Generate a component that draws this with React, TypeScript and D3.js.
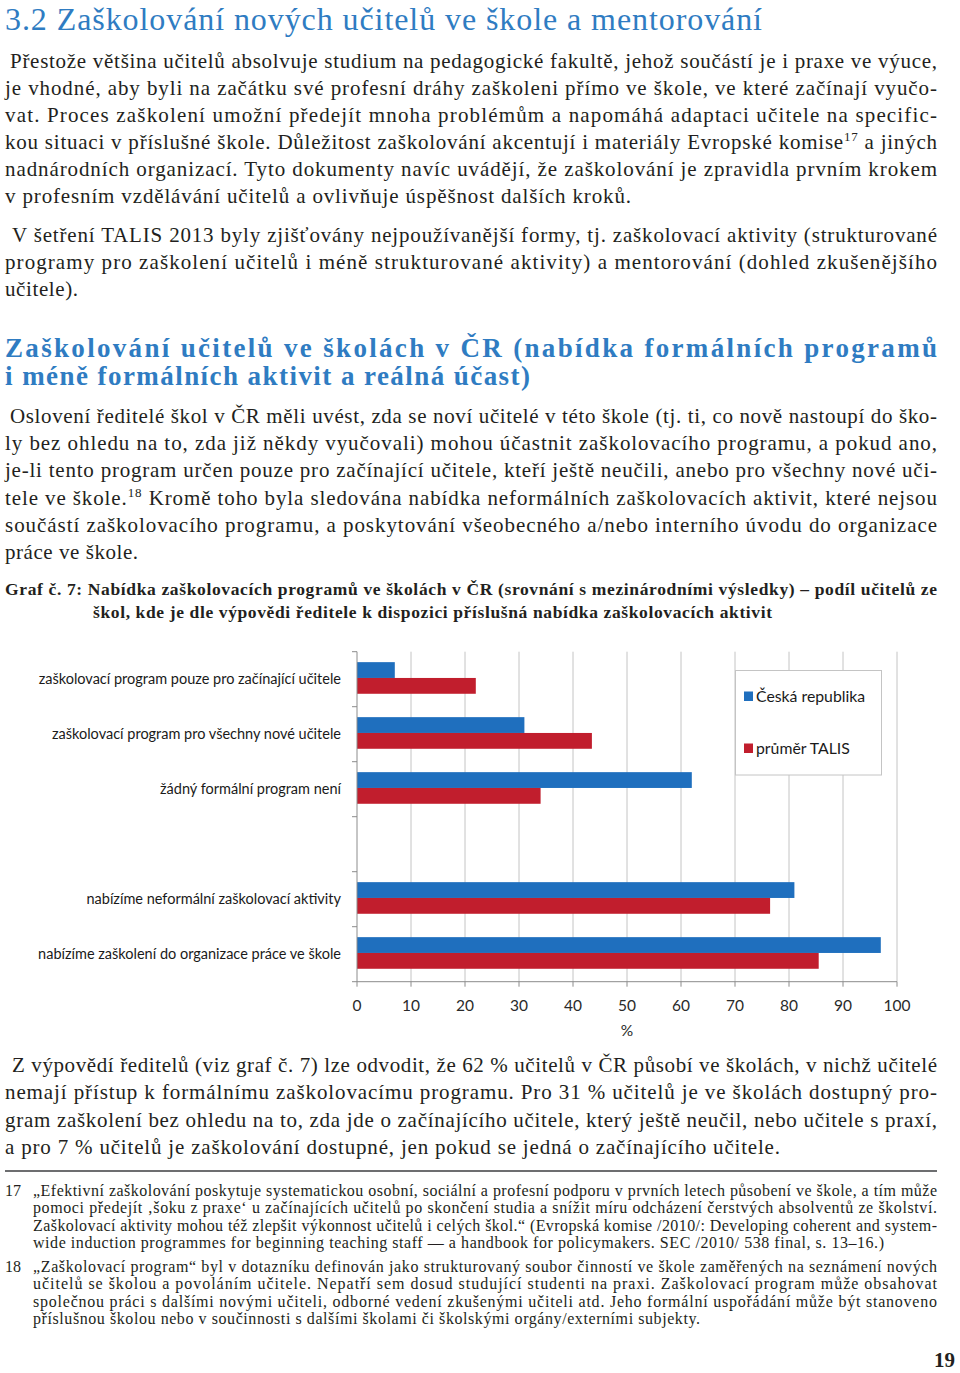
import React from "react";
import * as d3 from "d3";

// ---------- chart data ----------
const categories = [
  "zaškolovací program pouze pro začínající učitele",
  "zaškolovací program pro všechny nové učitele",
  "žádný formální program není",
  "nabízíme neformální zaškolovací aktivity",
  "nabízíme zaškolení do organizace práce ve škole",
];
// empty slot between the 3rd and 4th category in the original chart
const rowOrder = [categories[0], categories[1], categories[2], "", categories[3], categories[4]];
const czValues = [7, 31, 62, 81, 97];
const talisValues = [22, 43.5, 34, 76.5, 85.5];
const seriesNames = ["Česká republika", "průměr TALIS"];
const xTicks = [0, 10, 20, 30, 40, 50, 60, 70, 80, 90, 100];
const xAxisTitle = "%";

// ---------- page text ----------
const headingText = "3.2 Zaškolování nových učitelů ve škole a mentorování";
const para1 = [
  "Přestože většina učitelů absolvuje studium na pedagogické fakultě, jehož součástí je i praxe ve výuce,",
  "je vhodné, aby byli na začátku své profesní dráhy zaškoleni přímo ve škole, ve které začínají vyučo-",
  "vat. Proces zaškolení umožní předejít mnoha problémům a napomáhá adaptaci učitele na specific-",
  "kou situaci v příslušné škole. Důležitost zaškolování akcentují i materiály Evropské komise^17 a jiných",
  "nadnárodních organizací. Tyto dokumenty navíc uvádějí, že zaškolování je zpravidla prvním krokem",
  "v profesním vzdělávání učitelů a ovlivňuje úspěšnost dalších kroků.",
];
const para2 = [
  "V šetření TALIS 2013 byly zjišťovány nejpoužívanější formy, tj. zaškolovací aktivity (strukturované",
  "programy pro zaškolení učitelů i méně strukturované aktivity) a mentorování (dohled zkušenějšího",
  "učitele).",
];
const subheading = [
  "Zaškolování učitelů ve školách v ČR (nabídka formálních programů",
  "i méně formálních aktivit a reálná účast)",
];
const para3 = [
  "Oslovení ředitelé škol v ČR měli uvést, zda se noví učitelé v této škole (tj. ti, co nově nastoupí do ško-",
  "ly bez ohledu na to, zda již někdy vyučovali) mohou účastnit zaškolovacího programu, a pokud ano,",
  "je-li tento program určen pouze pro začínající učitele, kteří ještě neučili, anebo pro všechny nové uči-",
  "tele ve škole.^18 Kromě toho byla sledována nabídka neformálních zaškolovacích aktivit, které nejsou",
  "součástí zaškolovacího programu, a poskytování všeobecného a/nebo interního úvodu do organizace",
  "práce ve škole.",
];
const caption = [
  "Graf č. 7: Nabídka zaškolovacích programů ve školách v ČR (srovnání s mezinárodními výsledky) – podíl učitelů ze",
  "škol, kde je dle výpovědi ředitele k dispozici příslušná nabídka zaškolovacích aktivit",
];
const para4 = [
  "Z výpovědí ředitelů (viz graf č. 7) lze odvodit, že 62 % učitelů v ČR působí ve školách, v nichž učitelé",
  "nemají přístup k formálnímu zaškolovacímu programu. Pro 31 % učitelů je ve školách dostupný pro-",
  "gram zaškolení bez ohledu na to, zda jde o začínajícího učitele, který ještě neučil, nebo učitele s praxí,",
  "a pro 7 % učitelů je zaškolování dostupné, jen pokud se jedná o začínajícího učitele.",
];
const fn17 = [
  "„Efektivní zaškolování poskytuje systematickou osobní, sociální a profesní podporu v prvních letech působení ve škole, a tím může",
  "pomoci předejít ‚šoku z praxe‘ u začínajících učitelů po skončení studia a snížit míru odcházení čerstvých absolventů ze školství.",
  "Zaškolovací aktivity mohou též zlepšit výkonnost učitelů i celých škol.“ (Evropská komise /2010/: Developing coherent and system-",
  "wide induction programmes for beginning teaching staff — a handbook for policymakers. SEC /2010/ 538 final, s. 13–16.)",
];
const fn18 = [
  "„Zaškolovací program“ byl v dotazníku definován jako strukturovaný soubor činností ve škole zaměřených na seznámení nových",
  "učitelů se školou a povoláním učitele. Nepatří sem dosud studující studenti na praxi. Zaškolovací program může obsahovat",
  "společnou práci s dalšími novými učiteli, odborné vedení zkušenými učiteli atd. Jeho formální uspořádání může být stanoveno",
  "příslušnou školou nebo v součinnosti s dalšími školami či školskými orgány/externími subjekty.",
];
const pageNumber = "19";

const SERIF = "'Liberation Serif', 'DejaVu Serif', serif";
const SANS = "Lato, 'Open Sans', sans-serif";
const TEXT = "#231f20";
const BLUE_HEAD = "#2f7cc2";
const CZ = "#1f6fbe";
const TALIS = "#c11e2d";

function renderRich(s: string, size: number) {
  const parts = s.split(/\^(\d+)/);
  const out: any[] = [];
  parts.forEach((p, i) => {
    if (i % 2 === 1) {
      out.push(
        <tspan key={i} dy={-size * 0.38} fontSize={size * 0.62}>
          {p}
        </tspan>
      );
    } else if (p.length) {
      out.push(
        <tspan key={i} dy={i === 0 ? 0 : size * 0.38}>
          {p}
        </tspan>
      );
    }
  });
  return out;
}

type ParaProps = {
  lines: string[];
  x0: number;
  firstX?: number;
  y0: number;
  lh: number;
  size: number;
  right?: number;
  lastWidth?: number;
  weight?: string | number;
  fill?: string;
};

function Para({ lines, x0, firstX, y0, lh, size, right = 937, lastWidth, weight = "normal", fill = TEXT }: ParaProps) {
  return (
    <g fontFamily={SERIF} fontSize={size} fontWeight={weight} fill={fill}>
      {lines.map((l, i) => {
        const x = i === 0 && firstX !== undefined ? firstX : x0;
        const last = i === lines.length - 1;
        const w = last ? lastWidth : right - x;
        return (
          <text
            key={i}
            x={x}
            y={y0 + i * lh}
            textLength={w}
            lengthAdjust={w ? "spacing" : undefined}
          >
            {renderRich(l, size)}
          </text>
        );
      })}
    </g>
  );
}

function Chart() {
  const x = d3.scaleLinear().domain([0, 100]).range([357, 897]);
  const y = d3.scaleBand<string>().domain(rowOrder).range([651.7, 981.7]);
  const bw = y.bandwidth();
  const sub = d3.scaleBand<string>().domain(seriesNames).range([bw * 0.19, bw * 0.765]);
  const top = y.range()[0];
  const bottom = y.range()[1];
  const boundaries = d3.range(rowOrder.length + 1).map((i) => top + i * y.step());

  return (
    <g>
      {/* gridlines */}
      {xTicks.filter((t) => t > 0).map((t) => (
        <line key={t} x1={x(t)} x2={x(t)} y1={top} y2={bottom} stroke="#c4c4c4" strokeWidth={1} />
      ))}
      {/* bars */}
      {categories.map((c, i) => (
        <g key={c}>
          <rect x={x(0)} y={(y(c) as number) + (sub(seriesNames[0]) as number)} width={x(czValues[i]) - x(0)} height={sub.bandwidth()} fill={CZ} />
          <rect x={x(0)} y={(y(c) as number) + (sub(seriesNames[1]) as number)} width={x(talisValues[i]) - x(0)} height={sub.bandwidth()} fill={TALIS} />
        </g>
      ))}
      {/* axes */}
      <line x1={x(0)} x2={x(0)} y1={top} y2={bottom} stroke="#8c8c8c" />
      {boundaries.map((b, i) => (
        <line key={i} x1={x(0) - 5} x2={x(0)} y1={b} y2={b} stroke="#8c8c8c" />
      ))}
      <line x1={x(0)} x2={x(100)} y1={bottom} y2={bottom} stroke="#8c8c8c" />
      {xTicks.map((t) => (
        <g key={t}>
          <line x1={x(t)} x2={x(t)} y1={bottom} y2={bottom + 5} stroke="#8c8c8c" />
          <text x={x(t)} y={bottom + 29} textAnchor="middle" fontFamily={SANS} fontSize={15.5} fill="#2a2a2a">
            {t}
          </text>
        </g>
      ))}
      <text x={x(50)} y={bottom + 54} textAnchor="middle" fontFamily={SANS} fontSize={15.5} fill="#2a2a2a">
        {xAxisTitle}
      </text>
      {/* category labels */}
      {categories.map((c) => (
        <text key={c} x={341} y={(y(c) as number) + bw / 2 + 5} textAnchor="end" fontFamily={SANS} fontSize={14.5} fill="#1a1a1a">
          {c}
        </text>
      ))}
      {/* legend */}
      <rect x={735.5} y={670.5} width={146} height={104.5} fill="#fff" stroke="#c4c4c4" />
      {seriesNames.map((s, i) => (
        <g key={s}>
          <rect x={744} y={691.5 + i * 52} width={9} height={9.5} fill={i === 0 ? CZ : TALIS} />
          <text x={756} y={701.5 + i * 52} fontFamily={SANS} fontSize={15.8} fill="#1a1a1a">
            {s}
          </text>
        </g>
      ))}
    </g>
  );
}

export default function App() {
  return (
    <svg
      width={960}
      height={1373}
      viewBox="0 0 960 1373"
      style={{ position: "absolute", left: 0, top: 0, background: "#fff", display: "block" }}
    >
      <rect x={0} y={0} width={960} height={1373} fill="#fff" />
      <text x={5} y={30} fontFamily={SERIF} fontSize={32} fill={BLUE_HEAD} textLength={757} lengthAdjust="spacing">
        {headingText}
      </text>
      <Para lines={para1} x0={5} firstX={10} y0={68} lh={27} size={21} lastWidth={626} />
      <Para lines={para2} x0={5} firstX={12} y0={242} lh={27} size={21} lastWidth={73} />
      <Para lines={subheading} x0={5} y0={357} lh={28} size={27} weight="bold" fill={BLUE_HEAD} lastWidth={525} />
      <Para lines={para3} x0={5} firstX={10} y0={423} lh={27.2} size={21} lastWidth={133} />
      <g>
        <text x={5} y={595} fontFamily={SERIF} fontSize={17.5} fontWeight="bold" fill={TEXT} textLength={932} lengthAdjust="spacing">
          {caption[0]}
        </text>
        <text x={93} y={618} fontFamily={SERIF} fontSize={17.5} fontWeight="bold" fill={TEXT} textLength={679} lengthAdjust="spacing">
          {caption[1]}
        </text>
      </g>
      <Chart />
      <Para lines={para4} x0={5} firstX={12} y0={1072} lh={27.3} size={21} lastWidth={775} />
      <line x1={5} x2={937} y1={1171} y2={1171} stroke="#6d6e70" strokeWidth={2} />
      <text x={5} y={1196} fontFamily={SERIF} fontSize={16} fill={TEXT}>17</text>
      <Para lines={fn17} x0={33} y0={1196} lh={17.4} size={16} lastWidth={851} />
      <text x={5} y={1272} fontFamily={SERIF} fontSize={16} fill={TEXT}>18</text>
      <Para lines={fn18} x0={33} y0={1272} lh={17.4} size={16} lastWidth={667} />
      <text x={955} y={1367} textAnchor="end" fontFamily={SERIF} fontSize={21} fontWeight="bold" fill={TEXT}>
        {pageNumber}
      </text>
    </svg>
  );
}
